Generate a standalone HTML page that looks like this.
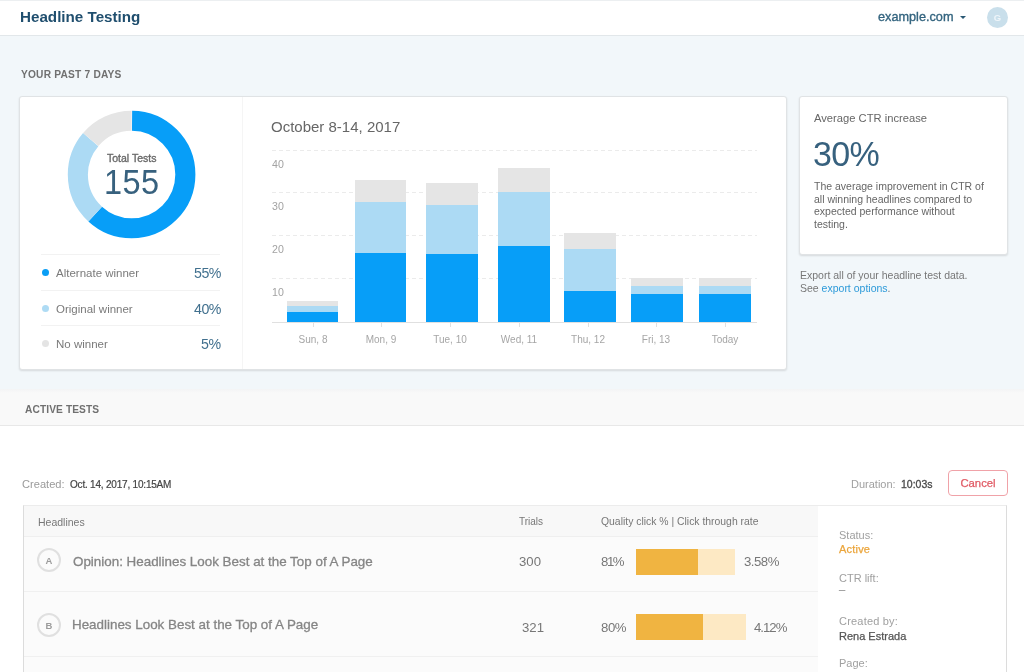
<!DOCTYPE html>
<html><head><meta charset="utf-8">
<style>
*{margin:0;padding:0;box-sizing:border-box}
html,body{width:1024px;height:672px;overflow:hidden;background:#fff}
body{font-family:"Liberation Sans",sans-serif;position:relative;color:#555;-webkit-font-smoothing:antialiased}
.a{will-change:transform}
.a{position:absolute;white-space:nowrap}
#hdr{position:absolute;left:0;top:0;width:1024px;height:36px;background:#fff;border-top:1px solid #eceff1;border-bottom:1px solid #e2e7ea;box-shadow:0 1px 0 #e8edf0}
#top{position:absolute;left:0;top:36px;width:1024px;height:353px;background:#f2f7fa}
#band{position:absolute;left:0;top:389px;width:1024px;height:37px;background:linear-gradient(#f3f4f5 0,#f9f9f9 4px);border-bottom:1px solid #e8e8e8}
.card{position:absolute;background:#fff;border:1px solid #e0e3e5;border-radius:3px;box-shadow:0 1px 2px rgba(0,0,0,0.12)}
.sec{font-weight:bold;font-size:10.2px;color:#707070;letter-spacing:0.2px}
.lg{font-size:11.5px;color:#7a7a7a}
.pc{font-size:14.2px;letter-spacing:-0.5px;color:#41708e}
.dot{position:absolute;width:7px;height:7px;border-radius:50%}
.sep{position:absolute;left:41px;width:179px;height:1px;background:#f2f2f2}
.yl{font-size:10.6px;color:#a3a3a3}
.xl{font-size:10px;color:#a6a6a6;text-align:center;width:60px}
.grid{position:absolute;left:272px;width:485px;height:1px;background:repeating-linear-gradient(90deg,#ebebeb 0 4px,transparent 4px 7px)}
.bar{position:absolute;width:52px}
.circ{width:24px;height:24px;border:2px solid #e0e0e0;border-radius:50%;font-size:9.5px;font-weight:bold;color:#9c9c9c;text-align:center;line-height:21.5px}
.hl{font-size:13.4px;color:#858585;-webkit-text-stroke:0.3px #858585}
.num{font-size:13.2px;color:#777}
.sl{font-size:11px;color:#a0a0a0}
.sv{font-size:11px;-webkit-text-stroke:0.25px currentColor}
</style></head><body>
<div id="hdr"></div>
<div class="a" style="left:20px;top:8px;font-size:15.2px;font-weight:bold;color:#1f4e6e">Headline Testing</div>
<div class="a" style="left:878px;top:10px;font-size:12.7px;color:#33647f;-webkit-text-stroke:0.35px #33647f">example.com</div>
<div class="a" style="left:959.5px;top:15.5px;width:0;height:0;border-left:3px solid transparent;border-right:3px solid transparent;border-top:3.5px solid #2a5874"></div>
<div class="a" style="left:987px;top:6.5px;width:21px;height:21px;border-radius:50%;background:#c9dfeb;color:#eef5f9;font-size:9.5px;font-weight:bold;text-align:center;line-height:21px">G</div>

<div id="top"></div>
<div class="a sec" style="left:20.5px;top:68.7px">YOUR PAST 7 DAYS</div>

<!-- main card -->
<div class="card" style="left:19px;top:96px;width:768px;height:274px"></div>
<div class="a" style="left:242px;top:97px;width:1px;height:272px;background:#f5f5f5"></div>

<!-- donut -->
<svg class="a" style="left:0;top:0" width="260" height="260" viewBox="0 0 260 260">
  <g transform="rotate(-90 131.6 174.5)" fill="none" stroke-width="20.1">
    <circle cx="131.6" cy="174.5" r="53.75" stroke="#079ef8" stroke-dasharray="208.07 400" stroke-dashoffset="-0.47"/>
    <circle cx="131.6" cy="174.5" r="53.75" stroke="#acdaf4" stroke-dasharray="82.27 400" stroke-dashoffset="-208.54"/>
    <circle cx="131.6" cy="174.5" r="53.75" stroke="#e5e5e5" stroke-dasharray="46.44 400" stroke-dashoffset="-290.82"/>
  </g>
</svg>
<div class="a" style="left:107px;top:152px;font-size:10.5px;color:#6a6a6a;-webkit-text-stroke:0.35px #6a6a6a">Total Tests</div>
<div class="a" style="left:104px;top:165.5px;font-size:32.5px;letter-spacing:0.4px;color:#37617e;transform:scaleY(1.08);transform-origin:0 100%">155</div>

<!-- legend -->
<div class="sep" style="top:254px"></div>
<div class="sep" style="top:290px"></div>
<div class="sep" style="top:325px"></div>
<div class="dot" style="left:41.5px;top:268.5px;background:#0a9ef5"></div>
<div class="dot" style="left:41.5px;top:304.5px;background:#aedbf4"></div>
<div class="dot" style="left:41.5px;top:339.5px;background:#e4e4e4"></div>
<div class="a lg" style="left:56px;top:267px">Alternate winner</div>
<div class="a lg" style="left:56px;top:303px">Original winner</div>
<div class="a lg" style="left:56px;top:338px">No winner</div>
<div class="a pc" style="right:803.6px;top:265px">55%</div>
<div class="a pc" style="right:803.6px;top:301px">40%</div>
<div class="a pc" style="right:803.6px;top:336px">5%</div>

<!-- chart -->
<div class="a" style="left:271px;top:118px;font-size:15px;color:#666">October 8-14, 2017</div>
<div class="grid" style="top:150px"></div>
<div class="grid" style="top:192px"></div>
<div class="grid" style="top:235px"></div>
<div class="grid" style="top:278px"></div>
<div class="a yl" style="left:272px;top:158px">40</div>
<div class="a yl" style="left:272px;top:200px">30</div>
<div class="a yl" style="left:272px;top:243px">20</div>
<div class="a yl" style="left:272px;top:286px">10</div>

<div id="bars"></div>
<div class="bar" style="left:287px;top:301px;width:51px;height:5px;background:#e5e5e5"></div>
<div class="bar" style="left:287px;top:306px;width:51px;height:6px;background:#acdaf4"></div>
<div class="bar" style="left:287px;top:312px;width:51px;height:10px;background:#079ef8"></div>
<div class="a" style="left:313px;top:322px;width:1px;height:5px;background:#e0e0e0"></div>
<div class="a xl" style="left:282.7px;top:334px">Sun, 8</div>
<div class="bar" style="left:355px;top:180px;width:51px;height:22px;background:#e5e5e5"></div>
<div class="bar" style="left:355px;top:202px;width:51px;height:51px;background:#acdaf4"></div>
<div class="bar" style="left:355px;top:253px;width:51px;height:69px;background:#079ef8"></div>
<div class="a" style="left:381px;top:322px;width:1px;height:5px;background:#e0e0e0"></div>
<div class="a xl" style="left:351.4px;top:334px">Mon, 9</div>
<div class="bar" style="left:426px;top:183px;width:52px;height:22px;background:#e5e5e5"></div>
<div class="bar" style="left:426px;top:205px;width:52px;height:49px;background:#acdaf4"></div>
<div class="bar" style="left:426px;top:254px;width:52px;height:68px;background:#079ef8"></div>
<div class="a" style="left:450px;top:322px;width:1px;height:5px;background:#e0e0e0"></div>
<div class="a xl" style="left:420.2px;top:334px">Tue, 10</div>
<div class="bar" style="left:498px;top:168px;width:52px;height:24px;background:#e5e5e5"></div>
<div class="bar" style="left:498px;top:192px;width:52px;height:54px;background:#acdaf4"></div>
<div class="bar" style="left:498px;top:246px;width:52px;height:76px;background:#079ef8"></div>
<div class="a" style="left:519px;top:322px;width:1px;height:5px;background:#e0e0e0"></div>
<div class="a xl" style="left:488.9px;top:334px">Wed, 11</div>
<div class="bar" style="left:564px;top:233px;width:52px;height:16px;background:#e5e5e5"></div>
<div class="bar" style="left:564px;top:249px;width:52px;height:42px;background:#acdaf4"></div>
<div class="bar" style="left:564px;top:291px;width:52px;height:31px;background:#079ef8"></div>
<div class="a" style="left:588px;top:322px;width:1px;height:5px;background:#e0e0e0"></div>
<div class="a xl" style="left:557.6px;top:334px">Thu, 12</div>
<div class="bar" style="left:631px;top:278px;width:52px;height:8px;background:#e5e5e5"></div>
<div class="bar" style="left:631px;top:286px;width:52px;height:8px;background:#acdaf4"></div>
<div class="bar" style="left:631px;top:294px;width:52px;height:28px;background:#079ef8"></div>
<div class="a" style="left:656px;top:322px;width:1px;height:5px;background:#e0e0e0"></div>
<div class="a xl" style="left:626.4px;top:334px">Fri, 13</div>
<div class="bar" style="left:699px;top:278px;width:52px;height:8px;background:#e5e5e5"></div>
<div class="bar" style="left:699px;top:286px;width:52px;height:8px;background:#acdaf4"></div>
<div class="bar" style="left:699px;top:294px;width:52px;height:28px;background:#079ef8"></div>
<div class="a" style="left:725px;top:322px;width:1px;height:5px;background:#e0e0e0"></div>
<div class="a xl" style="left:695.1px;top:334px">Today</div>
<!--/bars-->

<div class="a" style="left:272px;top:321.5px;width:485px;height:1px;background:#e0e0e0"></div>

<!-- right card -->
<div class="card" style="left:799px;top:96px;width:209px;height:159px"></div>
<div class="a" style="left:814px;top:112px;font-size:11.2px;color:#666">Average CTR increase</div>
<div class="a" style="left:813px;top:134.5px;font-size:34px;letter-spacing:-0.6px;color:#37617e;transform:scaleY(1.05);transform-origin:0 100%">30%</div>
<div class="a" style="left:814px;top:180px;font-size:10.5px;line-height:12.5px;color:#666;white-space:normal;width:180px">The average improvement in CTR of<br>all winning headlines compared to<br>expected performance without<br>testing.</div>
<div class="a" style="left:800px;top:269px;font-size:10.5px;line-height:13px;color:#777">Export all of your headline test data.<br>See <span style="color:#2d9ad9">export options</span>.</div>

<div id="band"></div>
<div class="a sec" style="left:24.5px;top:403.7px;letter-spacing:0.1px">ACTIVE TESTS</div>

<!-- active test -->
<div class="a" style="left:22px;top:477.5px;font-size:11.1px;color:#9a9a9a">Created:</div><div class="a" style="left:70px;top:478.5px;font-size:10px;letter-spacing:-0.2px;color:#444;-webkit-text-stroke:0.2px #444">Oct. 14, 2017, 10:15AM</div>
<div class="a" style="left:851px;top:478px;font-size:11px;color:#a0a0a0">Duration:</div><div class="a" style="left:901px;top:478px;font-size:10.5px;color:#4a4a4a;-webkit-text-stroke:0.3px #4a4a4a">10:03s</div>
<div class="a" style="left:948px;top:470px;width:60px;height:26px;border:1.5px solid #f0a2a8;border-radius:4px;color:#e05a64;font-size:11.3px;text-align:center;line-height:25px;-webkit-text-stroke:0.25px #e05a64">Cancel</div>

<div class="a" style="left:23px;top:505px;width:984px;height:170px;border:1px solid #ececec;border-left-color:#dcdcdc;border-right-color:#dcdcdc;background:#fbfbfb"></div>
<div class="a" style="left:24px;top:506px;width:794px;height:31px;background:#f8f8f8;border-bottom:1px solid #efefef"></div>
<div class="a" style="left:818px;top:506px;width:188px;height:170px;background:#fff"></div>

<!-- table content -->
<div class="a" style="left:24px;top:591px;width:794px;height:1px;background:#f0f0f0"></div>
<div class="a" style="left:24px;top:656px;width:794px;height:1px;background:#f0f0f0"></div>
<div class="a" style="left:38px;top:515.5px;font-size:10.5px;color:#777">Headlines</div>
<div class="a" style="left:519px;top:516px;font-size:10px;color:#777">Trials</div>
<div class="a" style="left:601px;top:516px;font-size:10.4px;color:#777">Quality click % | Click through rate</div>

<div class="a circ" style="left:37px;top:548px">A</div>
<div class="a hl" style="left:73px;top:554px">Opinion: Headlines Look Best at the Top of A Page</div>
<div class="a num" style="left:519px;top:554px">300</div>
<div class="a num" style="left:601px;top:554px;letter-spacing:-1.4px">81%</div>
<div class="a" style="left:636px;top:549px;width:99px;height:26px;background:#fde9c4"></div>
<div class="a" style="left:636px;top:549px;width:62px;height:26px;background:#f0b441"></div>
<div class="a num" style="left:744px;top:554px;letter-spacing:-0.5px">3.58%</div>

<div class="a circ" style="left:37px;top:613px">B</div>
<div class="a hl" style="left:72px;top:617px">Headlines Look Best at the Top of A Page</div>
<div class="a num" style="left:522px;top:619.5px">321</div>
<div class="a num" style="left:601px;top:619.5px;letter-spacing:-0.4px">80%</div>
<div class="a" style="left:636px;top:614px;width:110px;height:26px;background:#fde9c4"></div>
<div class="a" style="left:636px;top:614px;width:67px;height:26px;background:#f0b441"></div>
<div class="a num" style="left:754px;top:619.5px;letter-spacing:-1px">4.12%</div>

<!-- sidebar -->
<div class="a sl" style="left:839px;top:529px">Status:</div>
<div class="a sv" style="left:839px;top:543px;color:#eba53c;letter-spacing:0.2px">Active</div>
<div class="a sl" style="left:839px;top:572px">CTR lift:</div>
<div class="a sv" style="left:839px;top:583px;color:#999">&ndash;</div>
<div class="a sl" style="left:839px;top:614.5px;letter-spacing:0.2px">Created by:</div>
<div class="a sv" style="left:839px;top:629.5px;color:#555">Rena Estrada</div>
<div class="a sl" style="left:839px;top:657px">Page:</div>
</body></html>
